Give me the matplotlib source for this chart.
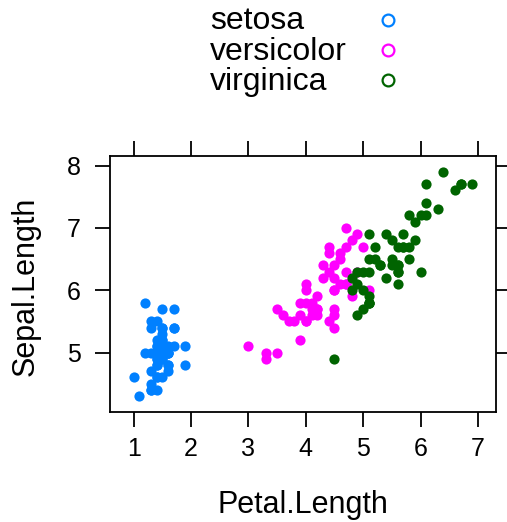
import matplotlib
matplotlib.use("Agg")
import matplotlib.pyplot as plt
from matplotlib.lines import Line2D

plt.rcParams["font.family"] = ["Liberation Sans", "DejaVu Sans"]

species = ["setosa", "versicolor", "virginica"]
colors = ["#0080ff", "#ff00ff", "#006400"]

# iris: Petal.Length / Sepal.Length per species
petal_length = {
    "setosa": [1.4, 1.4, 1.3, 1.5, 1.4, 1.7, 1.4, 1.5, 1.4, 1.5, 1.5, 1.6, 1.4, 1.1, 1.2,
               1.5, 1.3, 1.4, 1.7, 1.5, 1.7, 1.5, 1.0, 1.7, 1.9, 1.6, 1.6, 1.5, 1.4, 1.6,
               1.6, 1.5, 1.5, 1.4, 1.5, 1.2, 1.3, 1.4, 1.3, 1.5, 1.3, 1.3, 1.3, 1.6, 1.9,
               1.4, 1.6, 1.4, 1.5, 1.4],
    "versicolor": [4.7, 4.5, 4.9, 4.0, 4.6, 4.5, 4.7, 3.3, 4.6, 3.9, 3.5, 4.2, 4.0, 4.7, 3.6,
                   4.4, 4.5, 4.1, 4.5, 3.9, 4.8, 4.0, 4.9, 4.7, 4.3, 4.4, 4.8, 5.0, 4.5, 3.5,
                   3.8, 3.7, 3.9, 5.1, 4.5, 4.5, 4.7, 4.4, 4.1, 4.0, 4.4, 4.6, 4.0, 3.3, 4.2,
                   4.2, 4.2, 4.3, 3.0, 4.1],
    "virginica": [6.0, 5.1, 5.9, 5.6, 5.8, 6.6, 4.5, 6.3, 5.8, 6.1, 5.1, 5.3, 5.5, 5.0, 5.1,
                  5.3, 5.5, 6.7, 6.9, 5.0, 5.7, 4.9, 6.7, 4.9, 5.7, 6.0, 4.8, 4.9, 5.6, 5.8,
                  6.1, 6.4, 5.6, 5.1, 5.6, 6.1, 5.6, 5.5, 4.8, 5.4, 5.6, 5.1, 5.1, 5.9, 5.7,
                  5.2, 5.0, 5.2, 5.4, 5.1],
}
sepal_length = {
    "setosa": [5.1, 4.9, 4.7, 4.6, 5.0, 5.4, 4.6, 5.0, 4.4, 4.9, 5.4, 4.8, 4.8, 4.3, 5.8,
               5.7, 5.4, 5.1, 5.7, 5.1, 5.4, 5.1, 4.6, 5.1, 4.8, 5.0, 5.0, 5.2, 5.2, 4.7,
               4.8, 5.4, 5.2, 5.5, 4.9, 5.0, 5.5, 4.9, 4.4, 5.1, 5.0, 4.5, 4.4, 5.0, 5.1,
               4.8, 5.1, 4.6, 5.3, 5.0],
    "versicolor": [7.0, 6.4, 6.9, 5.5, 6.5, 5.7, 6.3, 4.9, 6.6, 5.2, 5.0, 5.9, 6.0, 6.1, 5.6,
                   6.7, 5.6, 5.8, 6.2, 5.6, 5.9, 6.1, 6.3, 6.1, 6.4, 6.6, 6.8, 6.7, 6.0, 5.7,
                   5.5, 5.5, 5.8, 6.0, 5.4, 6.0, 6.7, 6.3, 5.6, 5.5, 5.5, 6.1, 5.8, 5.0, 5.6,
                   5.7, 5.7, 6.2, 5.1, 5.7],
    "virginica": [6.3, 5.8, 7.1, 6.3, 6.5, 7.6, 4.9, 7.3, 6.7, 7.2, 6.5, 6.4, 6.8, 5.7, 5.8,
                  6.4, 6.5, 7.7, 7.7, 6.0, 6.9, 5.6, 7.7, 6.3, 6.7, 7.2, 6.2, 6.1, 6.4, 7.2,
                  7.4, 7.9, 6.4, 6.3, 6.1, 7.7, 6.3, 6.4, 6.0, 6.9, 6.7, 6.9, 5.8, 6.8, 6.7,
                  6.7, 6.3, 6.5, 6.2, 5.9],
}
x_ticks = [1, 2, 3, 4, 5, 6, 7]
y_ticks = [5, 6, 7, 8]

W, H = 507, 522
fig = plt.figure(figsize=(W / 100, H / 100), dpi=100)
ax = fig.add_axes([0.217, 0.211, 0.761, 0.490])

for sp, col in zip(species, colors):
    ax.scatter(petal_length[sp], sepal_length[sp], s=54, color=col, linewidths=0, zorder=3)

# lattice-style padding of 7% around the data range
allx = sum(petal_length.values(), [])
ally = sum(sepal_length.values(), [])
px = (max(allx) - min(allx)) * 0.07
py = (max(ally) - min(ally)) * 0.07
ax.set_xlim(min(allx) - px, max(allx) + px)
ax.set_ylim(min(ally) - py, max(ally) + py)

ax.set_xticks(x_ticks)
ax.set_yticks(y_ticks)
ax.tick_params(direction="out", length=11, width=1.3, labelsize=18,
               top=True, right=True, labeltop=False, labelright=False)
ax.tick_params(axis="x", pad=7)
ax.tick_params(axis="y", pad=10)
for s in ax.spines.values():
    s.set_linewidth(1.3)

# axis labels placed in figure pixels
fig.text(303 / W, 1 - 513 / H, "Petal.Length", fontsize=22, ha="center", va="baseline")
fig.text(34 / W, 1 - 286 / H, "Sepal.Length", fontsize=22, ha="center", va="baseline",
         rotation=90, rotation_mode="anchor")

# key above the panel: text left, open circle right
for i, (sp, col) in enumerate(zip(species, colors)):
    yb = 29 + i * 30.5
    fig.text(210 / W, 1 - yb / H, sp, fontsize=23, ha="left", va="baseline")
    fig.add_artist(Line2D([388 / W], [1 - (19.7 + i * 30) / H], linestyle="none", marker="o",
                          markersize=8.5, markerfacecolor="none", markeredgecolor=col,
                          markeredgewidth=1.6, transform=fig.transFigure))

fig.savefig("out.png", dpi=100)
